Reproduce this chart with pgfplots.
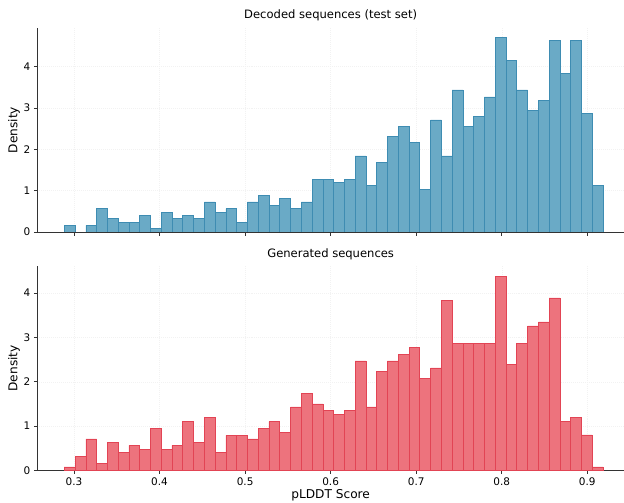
\documentclass[border=0pt]{standalone}
\usepackage{fontspec}
\setmainfont{DejaVu Sans}
\usepackage{pgfplots}
\pgfplotsset{compat=1.18}
\definecolor{bfill}{RGB}{106,170,198}
\definecolor{bedge}{RGB}{62,140,178}
\definecolor{rfill}{RGB}{237,115,125}
\definecolor{redge}{RGB}{226,68,84}
\definecolor{axc}{RGB}{51,51,51}
\pgfplotsset{
  histo/.style={
    width=586.7bp, height=204bp, scale only axis,
    axis x line*=bottom, axis y line*=left,
    axis line style={axc, line width=0.8pt, -},
    tick align=outside, major tick length=3.5bp,
    tick style={axc, line width=0.8pt},
    xmin=0.2571, xmax=0.9429, ymin=0,
    xtick={0.3,0.4,0.5,0.6,0.7,0.8,0.9},
    ytick={0,1,2,3,4},
    grid=major,
    major grid style={gray!10, line width=0.4pt, dash pattern=on 1pt off 1pt},
    /pgf/number format/assume math mode=true,
    /pgf/number format/fixed,
    tick label style={font=\fontsize{10.5}{12}\selectfont, text=black},
    every axis y label/.style={at={(axis description cs:-0.0397,0.5)}, rotate=90, anchor=center, font=\fontsize{12.2}{14}\selectfont},
    ylabel=Density,
  }
}
\begin{document}
\begin{tikzpicture}
\useasboundingbox (-37.3bp,-271bp) rectangle (586.7bp,232bp);
\begin{axis}[histo, at={(0bp,0bp)}, anchor=south west,
  ymax=4.936, xticklabels={},
  every axis title/.style={at={(axis description cs:0.5,1.0637)}, anchor=center, font=\fontsize{11.6}{14}\selectfont},
  title={Decoded sequences (test set)}]
\addplot[ybar interval, fill=bfill, draw=bedge, line width=0.6pt] coordinates {
(0.2886,0.16) (0.3012,0.0) (0.3138,0.16) (0.3264,0.565) (0.3390,0.32)
(0.3516,0.24) (0.3642,0.24) (0.3768,0.40) (0.3894,0.08) (0.4019,0.48)
(0.4145,0.32) (0.4271,0.40) (0.4397,0.32) (0.4523,0.73) (0.4649,0.48)
(0.4775,0.565) (0.4901,0.24) (0.5027,0.73) (0.5153,0.89) (0.5279,0.65)
(0.5405,0.81) (0.5531,0.565) (0.5657,0.73) (0.5783,1.28) (0.5909,1.28)
(0.6035,1.20) (0.6160,1.28) (0.6286,1.84) (0.6412,1.12) (0.6538,1.68)
(0.6664,2.32) (0.6790,2.56) (0.6916,2.16) (0.7042,1.04) (0.7168,2.71)
(0.7294,1.84) (0.7420,3.44) (0.7546,2.56) (0.7672,2.80) (0.7798,3.27)
(0.7924,4.70) (0.8049,4.15) (0.8175,3.44) (0.8301,2.95) (0.8427,3.19)
(0.8553,4.63) (0.8679,3.83) (0.8805,4.63) (0.8931,2.87) (0.9057,1.12)
(0.9183,1.12)
};
\end{axis}
\begin{axis}[histo, at={(0bp,-238.3bp)}, anchor=south west,
  ymax=4.605,
  every axis title/.style={at={(axis description cs:0.5,1.061)}, anchor=center, font=\fontsize{11.6}{14}\selectfont},
  title={Generated sequences},
  every axis x label/.style={at={(axis description cs:0.5,-0.121)}, anchor=center, font=\fontsize{12.2}{14}\selectfont},
  xlabel={pLDDT Score}]
\addplot[ybar interval, fill=rfill, draw=redge, line width=0.6pt] coordinates {
(0.2886,0.075) (0.3012,0.32) (0.3138,0.71) (0.3264,0.16) (0.3390,0.63)
(0.3516,0.40) (0.3642,0.56) (0.3768,0.47) (0.3894,0.95) (0.4019,0.47)
(0.4145,0.56) (0.4271,1.10) (0.4397,0.63) (0.4523,1.19) (0.4649,0.40)
(0.4775,0.79) (0.4901,0.79) (0.5027,0.71) (0.5153,0.95) (0.5279,1.10)
(0.5405,0.86) (0.5531,1.43) (0.5657,1.74) (0.5783,1.50) (0.5909,1.35)
(0.6035,1.27) (0.6160,1.35) (0.6286,2.47) (0.6412,1.43) (0.6538,2.23)
(0.6664,2.47) (0.6790,2.62) (0.6916,2.78) (0.7042,2.08) (0.7168,2.31)
(0.7294,3.83) (0.7420,2.86) (0.7546,2.86) (0.7672,2.86) (0.7798,2.86)
(0.7924,4.38) (0.8049,2.39) (0.8175,2.86) (0.8301,3.26) (0.8427,3.35)
(0.8553,3.89) (0.8679,1.11) (0.8805,1.20) (0.8931,0.80) (0.9057,0.075)
(0.9183,0.075)
};
\end{axis}
\end{tikzpicture}
\end{document}
